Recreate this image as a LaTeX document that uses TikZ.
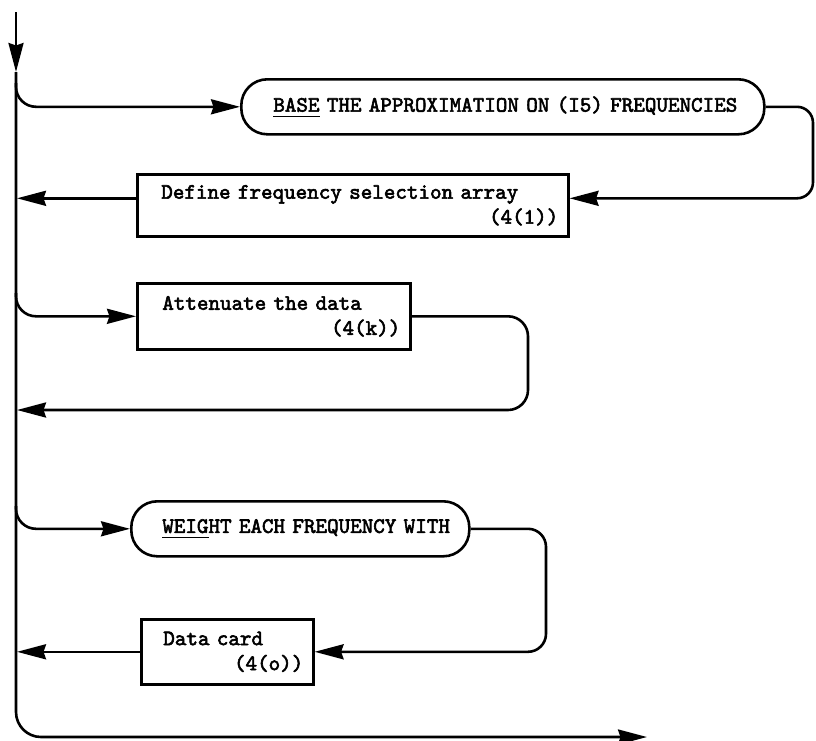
\documentclass[tikz,border=0pt]{standalone}
\usepackage{fontspec}
\newfontfamily\typewriter{lmmono10-regular}[Extension=.otf,FakeBold=2.6]
\usetikzlibrary{arrows.meta}
% underline a word with a heavier rule than \underline gives
\newcommand\ulword[1]{\setbox0\hbox{#1}\rlap{\rule[-5.5pt]{\wd0}{1.6pt}}#1}

\begin{document}
\begin{tikzpicture}[x=1pt,y=-1pt,
  flow/.style={line width=2.6pt,-{Stealth[length=29pt,width=15pt,inset=2.5pt]}},
  tw/.style={font=\typewriter\fontsize{22}{25}\selectfont},
  procbox/.style={tw,draw,line width=2.6pt,inner xsep=10pt,inner ysep=0pt,
    align=left,anchor=north west},
  termbox/.style={procbox,rounded corners=26pt},
]
\useasboundingbox (0,0) rectangle (816,740);

% boxes (top-left corner, width, height)
\node[termbox,text width=503pt,minimum height=55pt] (base) at (240,78)
  {\hspace*{22pt}\ulword{BASE} THE APPROXIMATION ON (I5) FREQUENCIES};
\node[procbox,text width=411pt,minimum height=62pt] (def) at (136,173)
  {\hspace*{14pt}Define frequency selection array\\\hspace*{\fill}(4(1))};
\node[procbox,text width=253pt,minimum height=66pt] (att) at (136,282)
  {\hspace*{15pt}Attenuate the data\\\hspace*{\fill}(4(k))};
\node[termbox,text width=318pt,minimum height=55pt] (weight) at (130,500)
  {\hspace*{21pt}\ulword{WEIG}HT EACH FREQUENCY WITH};
\node[procbox,text width=152pt,minimum height=65pt] (card) at (140,618)
  {\hspace*{12pt}Data card\\\hspace*{\fill}(4(o))\hspace*{2pt}};

% reference points of the main line and the loops
\coordinate (top) at (16,12);
\coordinate (topTip) at (16,72);
\coordinate (exit) at (647,737);
\coordinate (spine) at (17,0);
\coordinate (b1) at (16,83);
\coordinate (b2) at (16,293);
\coordinate (b3) at (16,506);
\coordinate (rx1) at (813,0);
\coordinate (rx2) at (528,410);
\coordinate (rx3) at (546,0);
\coordinate (defR) at ([yshift=7pt]def.east);
\coordinate (defL) at ([yshift=7pt]def.west);

% main line
\draw[flow] (top) -- (topTip);
\draw[flow,rounded corners=25pt] (topTip) |- (exit);

% first block
\draw[flow,rounded corners=20pt] (b1) |- (base.west);
\draw[flow,rounded corners=16pt] (base.east) -| (defR -| rx1) -- (defR);
\draw[flow] (defL) -- (defL -| spine);

% second block
\draw[flow,rounded corners=20pt] (b2) |- (att.west);
\draw[flow,rounded corners=20pt] (att.east) -| (rx2) -- (rx2 -| spine);

% third block
\draw[flow,rounded corners=20pt] (b3) |- (weight.west);
\draw[flow,rounded corners=18pt] (weight.east) -| (card.east -| rx3) -- (card.east);
\draw[flow] (card.west) -- (card.west -| spine);
\end{tikzpicture}
\end{document}
